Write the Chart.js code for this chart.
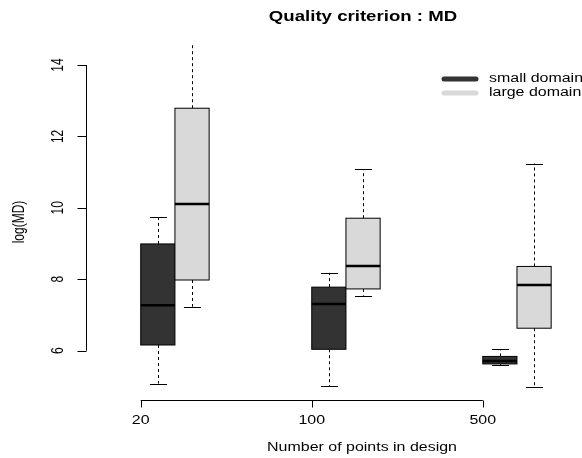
<!DOCTYPE html>
<html lang="en">
<head>
  <meta charset="UTF-8">
  <title>Quality criterion : MD</title>
  <script src="https://cdn.jsdelivr.net/npm/chart.js"></script>
  <style>
    html, body { margin: 0; padding: 0; background: #fff; }
    canvas { display: block; }
  </style>
</head>
<body>
<canvas id="grafico" width="582" height="458"></canvas>

<script>
  // groups on the x axis and the two series
  const groupLabels = ["20", "100", "500"];
  const seriesNames = ["small domain", "large domain"];

  // box statistics (log(MD))
  const smallLow    = [5.08, 5.01, 5.60];
  const smallQ1     = [6.16, 6.04, 5.63];
  const smallMedian = [7.27, 7.31, 5.71];
  const smallQ3     = [8.99, 7.78, 5.84];
  const smallHigh   = [9.73, 8.18, 6.05];

  const largeLow    = [7.23, 7.54, 4.98];
  const largeQ1     = [7.98, 7.73, 6.63];
  const largeMedian = [10.11, 8.37, 7.84];
  const largeQ3     = [12.79, 9.71, 8.36];
  const largeHigh   = [15.20, 11.08, 11.24];

  const yTicks = [6, 8, 10, 12, 14];

  const cores = ["#333333", "#d9d9d9"];
  const esticar = 1.33; // the reference text is a bit wide

  const series = [
    { low: smallLow, q1: smallQ1, med: smallMedian, q3: smallQ3, high: smallHigh, offset: 0.1 },
    { low: largeLow, q1: largeQ1, med: largeMedian, q3: largeQ3, high: largeHigh, offset: 0.3 }
  ];

  function texto(ctx, str, x, y, font, align, baseline, rot) {
    ctx.save();
    ctx.translate(x, y);
    ctx.scale(esticar, 1);
    if (rot) ctx.rotate(rot);
    ctx.font = font;
    ctx.fillStyle = "#000";
    ctx.textAlign = align;
    ctx.textBaseline = baseline;
    ctx.fillText(str, 0, 0);
    ctx.restore();
  }

  const boxPlugin = {
    id: "boxes",
    afterDatasetsDraw(chart) {
      const ctx = chart.ctx;
      const xs = chart.scales.x;
      const ys = chart.scales.y;
      const area = chart.chartArea;
      const font = "12px 'Liberation Sans', Arial, sans-serif";

      // boxes (clipped to plot area)
      ctx.save();
      ctx.beginPath();
      ctx.rect(area.left, area.top, area.right - area.left, area.bottom - area.top);
      ctx.clip();
      series.forEach((s, si) => {
        groupLabels.forEach((g, gi) => {
          const c = gi + 1 + s.offset;
          const xc = Math.round(xs.getPixelForValue(c)) + 0.5;
          const x0 = xs.getPixelForValue(c - 0.1);
          const x1 = xs.getPixelForValue(c + 0.1);
          const half = (x1 - x0) / 4;
          const yLow = ys.getPixelForValue(s.low[gi]);
          const yQ1 = ys.getPixelForValue(s.q1[gi]);
          const yMed = ys.getPixelForValue(s.med[gi]);
          const yQ3 = ys.getPixelForValue(s.q3[gi]);
          const yHigh = ys.getPixelForValue(s.high[gi]);

          // whiskers
          ctx.strokeStyle = "#000";
          ctx.lineWidth = 1;
          ctx.setLineDash([3, 3]);
          ctx.beginPath();
          ctx.moveTo(xc, yQ3); ctx.lineTo(xc, yHigh);
          ctx.moveTo(xc, yQ1); ctx.lineTo(xc, yLow);
          ctx.stroke();
          ctx.setLineDash([]);
          ctx.beginPath();
          ctx.moveTo(xc - half, Math.round(yHigh) + 0.5); ctx.lineTo(xc + half, Math.round(yHigh) + 0.5);
          ctx.moveTo(xc - half, Math.round(yLow) + 0.5); ctx.lineTo(xc + half, Math.round(yLow) + 0.5);
          ctx.stroke();

          // box
          ctx.fillStyle = cores[si];
          ctx.fillRect(x0, yQ3, x1 - x0, yQ1 - yQ3);
          ctx.strokeRect(x0, yQ3, x1 - x0, yQ1 - yQ3);

          // median
          ctx.lineWidth = 2.5;
          ctx.beginPath();
          ctx.moveTo(x0, yMed); ctx.lineTo(x1, yMed);
          ctx.stroke();
        });
      });
      ctx.restore();

      // y axis
      ctx.save();
      ctx.strokeStyle = "#000";
      ctx.lineWidth = 1;
      const ax = Math.round(area.left) + 0.5;
      ctx.beginPath();
      ctx.moveTo(ax, ys.getPixelForValue(yTicks[0]));
      ctx.lineTo(ax, ys.getPixelForValue(yTicks[yTicks.length - 1]));
      yTicks.forEach(t => {
        const y = Math.round(ys.getPixelForValue(t)) + 0.5;
        ctx.moveTo(ax, y); ctx.lineTo(ax - 9, y);
      });
      ctx.stroke();
      yTicks.forEach(t => {
        texto(ctx, String(t), ax - 28, ys.getPixelForValue(t), font, "center", "middle", -Math.PI / 2);
      });
      texto(ctx, "log(MD)", 20, (area.top + area.bottom) / 2, font, "center", "middle", -Math.PI / 2);

      // x axis
      const ay = Math.round(area.bottom) + 0.5;
      ctx.beginPath();
      ctx.moveTo(xs.getPixelForValue(1), ay);
      ctx.lineTo(xs.getPixelForValue(groupLabels.length), ay);
      groupLabels.forEach((g, i) => {
        const x = Math.round(xs.getPixelForValue(i + 1)) + 0.5;
        ctx.moveTo(x, ay); ctx.lineTo(x, ay + 7);
      });
      ctx.stroke();
      groupLabels.forEach((g, i) => {
        texto(ctx, g, xs.getPixelForValue(i + 1), 421, font, "center", "middle");
      });
      texto(ctx, "Number of points in design", 362, 448, font, "center", "middle");

      // title
      texto(ctx, "Quality criterion : MD", 363, 17, "bold 14px 'Liberation Sans', Arial, sans-serif", "center", "middle");

      // legend
      ctx.lineCap = "round";
      ctx.lineWidth = 5;
      seriesNames.forEach((n, i) => {
        const y = 79 + i * 14;
        ctx.strokeStyle = cores[i];
        ctx.beginPath();
        ctx.moveTo(444, y); ctx.lineTo(476, y);
        ctx.stroke();
        texto(ctx, n, 489, y, "12px 'Liberation Sans', Arial, sans-serif", "left", "middle");
      });
      ctx.restore();
    }
  };

  new Chart(document.getElementById("grafico"), {
    type: "scatter",
    data: { datasets: [] },
    options: {
      responsive: false,
      animation: false,
      layout: { padding: { left: 86, right: 18, top: 44, bottom: 58 } },
      plugins: { legend: { display: false }, tooltip: { enabled: false } },
      scales: {
        x: { type: "linear", display: false, min: 0.68, max: 3.475 },
        y: { type: "linear", display: false, min: 4.62, max: 14.588 }
      }
    },
    plugins: [boxPlugin]
  });
</script>
</body>
</html>
